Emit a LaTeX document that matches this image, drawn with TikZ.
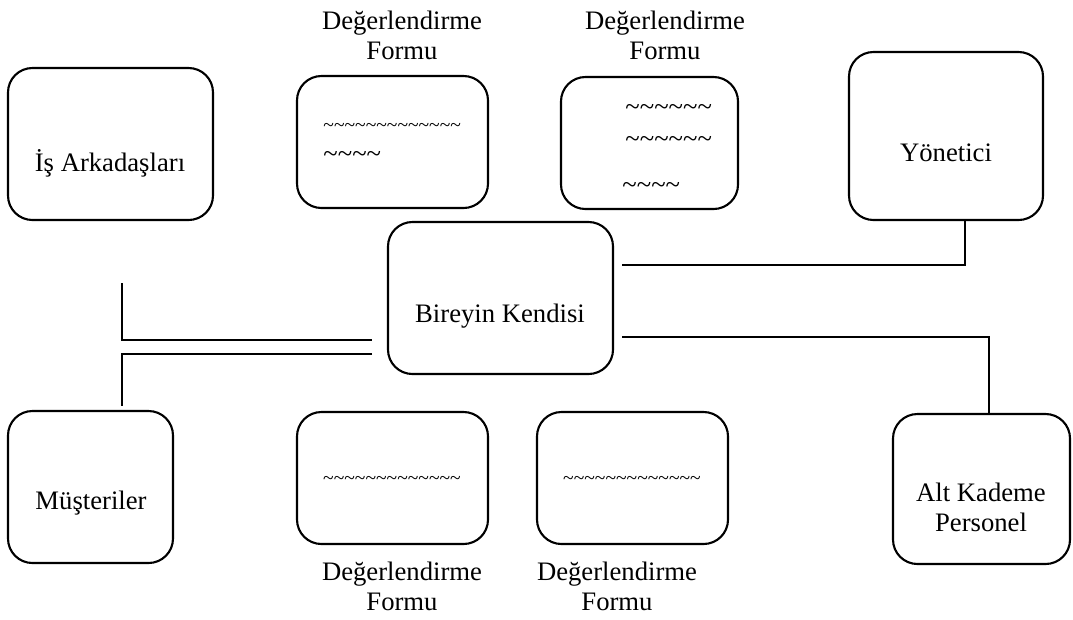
\documentclass[tikz,border=0pt]{standalone}
\usepackage{fontspec}
\setmainfont{Liberation Serif}
\usepackage{tikz}
\usetikzlibrary{positioning}

\newlength\birimpx
\setlength\birimpx{0.45pt}
\newcommand\tildeler[1]{\foreach\k in {1,...,#1}{\textasciitilde}}

\begin{document}
\begin{tikzpicture}[x=0.45pt,y=-0.45pt,
            kutu/.style={draw=black,line width=0.95pt,rounded corners=11pt,inner sep=0pt},
            yazi/.style={font=\fontsize{12}{13.5}\selectfont,align=center,inner sep=0pt},
            kucuk/.style={font=\fontsize{8.8}{10}\selectfont,inner sep=0pt},
            baglanti/.style={draw=black,line width=0.6pt}]
            \useasboundingbox (0,0) rectangle (1073,619);

            \node[kutu,minimum width=205\birimpx,minimum height=152\birimpx] (is) at (110.5,144){};
            \node[kutu,minimum width=194\birimpx,minimum height=168\birimpx] (yon) at (946,136){};
            \node[kutu,minimum width=225\birimpx,minimum height=152\birimpx] (bk) at (500.5,298){};
            \node[kutu,minimum width=165\birimpx,minimum height=152\birimpx] (mus) at (90.5,487){};
            \node[kutu,minimum width=177\birimpx,minimum height=150\birimpx] (alt) at (981.5,489){};

            \node[yazi] (isyazi) at (110,163){İş Arkadaşları};
            \node[yazi] (yonyazi) at (946,153){Yönetici};
            \node[yazi] (bkyazi) at (500,316){Bireyin Kendisi};
            \node[yazi] (musyazi) at (91,503){Müşteriler};
            \node[yazi] (altyazi) at (981,507){Alt Kademe\\Personel};

            \node[kutu,minimum width=191\birimpx,minimum height=132\birimpx] (form1) at (392.5,142){};
            \node[kutu,minimum width=177\birimpx,minimum height=132\birimpx] (form2) at (649.5,143){};
            \node[kutu,minimum width=191\birimpx,minimum height=132\birimpx] (form3) at (392.5,478){};
            \node[kutu,minimum width=191\birimpx,minimum height=132\birimpx] (form4) at (632.5,478){};

            \node[yazi] (form1ad) at (402,35){Değerlendirme\\Formu};
            \node[yazi] (form2ad) at (665,35){Değerlendirme\\Formu};
            \node[yazi] (form3ad) at (402,586){Değerlendirme\\Formu};
            \node[yazi] (form4ad) at (617,586){Değerlendirme\\Formu};

            \node[kucuk,anchor=west] (t1a) at (323,127){\tildeler{13}};
            \node[yazi,anchor=west] (t1b) at (323,157){\tildeler{4}};
            \node[yazi,anchor=west] (t2a) at (625,110){\tildeler{6}};
            \node[yazi,anchor=west] (t2b) at (625,142){\tildeler{6}};
            \node[yazi,anchor=west] (t2c) at (622,188){\tildeler{4}};
            \node[kucuk] (t3) at (392,480){\tildeler{13}};
            \node[kucuk] (t4) at (632,480){\tildeler{13}};

            \coordinate (isuc) at (122,283);
            \coordinate (bksol1) at (372,340);
            \coordinate (bksol2) at (372,354);
            \coordinate (musuc) at (122,406);
            \coordinate (bksag1) at (622,265);
            \coordinate (yonuc) at (965,221);
            \coordinate (bksag2) at (622,337);
            \coordinate (altuc) at (989,414);

            \draw[baglanti] (isuc) |- (bksol1);
            \draw[baglanti] (bksol2) -| (musuc);
            \draw[baglanti] (bksag1) -| (yonuc);
            \draw[baglanti] (bksag2) -| (altuc);
        \end{tikzpicture}
\end{document}
